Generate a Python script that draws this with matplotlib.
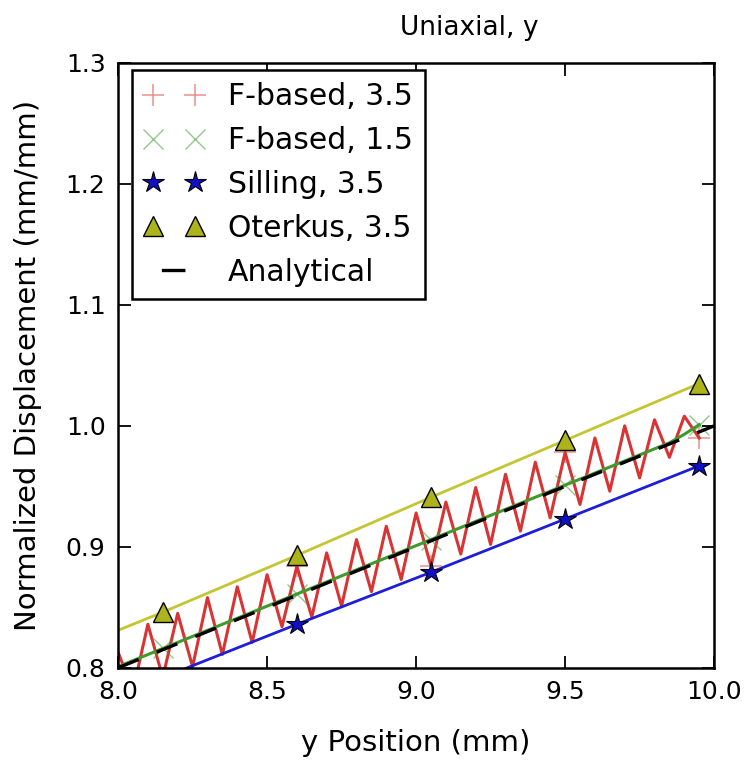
import matplotlib
matplotlib.use("Agg")
import matplotlib.pyplot as plt

# node positions (mm) and normalized displacement
y_pos = [7.95, 8.00, 8.05, 8.10, 8.15, 8.20, 8.25, 8.30, 8.35, 8.40,
         8.45, 8.50, 8.55, 8.60, 8.65, 8.70, 8.75, 8.80, 8.85, 8.90,
         8.95, 9.00, 9.05, 9.10, 9.15, 9.20, 9.25, 9.30, 9.35, 9.40,
         9.45, 9.50, 9.55, 9.60, 9.65, 9.70, 9.75, 9.80, 9.85, 9.90,
         9.95]

fbased_35 = [0.772, 0.813, 0.781, 0.836, 0.792, 0.845, 0.801, 0.858, 0.811, 0.867,
             0.821, 0.877, 0.834, 0.884, 0.842, 0.895, 0.851, 0.906, 0.863, 0.917,
             0.873, 0.928, 0.884, 0.937, 0.894, 0.949, 0.902, 0.960, 0.913, 0.970,
             0.924, 0.978, 0.935, 0.990, 0.946, 1.000, 0.957, 1.005, 0.974, 1.008,
             0.990]

fbased_15 = [0.796, 0.801, 0.806, 0.811, 0.816, 0.821, 0.826, 0.831, 0.836, 0.841,
             0.846, 0.851, 0.856, 0.861, 0.866, 0.871, 0.876, 0.881, 0.886, 0.891,
             0.896, 0.901, 0.906, 0.911, 0.916, 0.921, 0.926, 0.931, 0.936, 0.941,
             0.946, 0.951, 0.956, 0.961, 0.966, 0.971, 0.976, 0.981, 0.986, 0.993,
             1.001]

# coarser nodes for the two straight-line models
y_coarse = [7.95, 8.15, 8.60, 9.05, 9.50, 9.95]
silling_35 = [0.773, 0.792, 0.836, 0.879, 0.923, 0.967]
oterkus_35 = [0.826, 0.846, 0.893, 0.941, 0.988, 1.035]

y_exact = [8.0, 10.0]
analytical = [0.8, 1.0]

plt.rcParams["font.family"] = "DejaVu Sans"
plt.rcParams["lines.scale_dashes"] = False

fig = plt.figure(figsize=(7.52, 7.65), dpi=100)
ax = fig.add_axes([0.157, 0.127, 0.7926, 0.7908])

red = "#d93434"
green = "#3f9a2e"
blue = "#1e1ed8"
olive = "#c3c630"

# lines
ax.plot(y_pos, fbased_35, color=red, lw=2.2)
ax.plot(y_pos, fbased_15, color=green, lw=2.2)
ax.plot(y_coarse, silling_35, color=blue, lw=2.0)
ax.plot(y_coarse, oterkus_35, color=olive, lw=2.0)

# markers every 9th node (these carry the legend)
ax.plot(y_pos[4::9], fbased_35[4::9], "+", color=red, ms=16, mew=1.1,
        alpha=0.55, label="F-based, 3.5")
ax.plot(y_pos[4::9], fbased_15[4::9], "x", color=green, ms=15, mew=1.0,
        alpha=0.55, label="F-based, 1.5")
ax.plot(y_coarse[1:], silling_35[1:], "*", color="#1010c0", mec="black",
        mew=0.8, ms=16, ls="none", label="Silling, 3.5")
ax.plot(y_coarse[1:], oterkus_35[1:], "^", color="#adb31a", mec="black",
        mew=1.0, ms=15, ls="none", label="Oterkus, 3.5")
ax.plot(y_exact, analytical, color="black", lw=2.4, dashes=(16, 14),
        label="Analytical")

ax.set_xlim(8.0, 10.0)
ax.set_ylim(0.8, 1.3)
ax.set_xticks([8.0, 8.5, 9.0, 9.5, 10.0])
ax.set_yticks([0.8, 0.9, 1.0, 1.1, 1.2, 1.3])
ax.tick_params(direction="in", top=True, right=True, length=9, width=1.3,
               labelsize=18, pad=9)
for s in ax.spines.values():
    s.set_linewidth(1.8)

ax.set_title("Uniaxial, y", fontsize=19, pad=20, x=0.59)
ax.set_xlabel("y Position (mm)", fontsize=21, labelpad=18)
ax.set_ylabel("Normalized Displacement (mm/mm)", fontsize=21, labelpad=17)

leg = ax.legend(loc="upper left", bbox_to_anchor=(0.0235, 0.988),
                borderaxespad=0, numpoints=2, fontsize=21.5, fancybox=False,
                framealpha=1, edgecolor="black", handlelength=2.0,
                handletextpad=0.8, labelspacing=0.5, borderpad=0.4)
leg.get_frame().set_linewidth(1.8)
# single short dash in the legend handle, as in the original
leg.legend_handles[4].set_linestyle((51, (17, 40)))

fig.savefig("out.png", dpi=100)
plt.close(fig)
